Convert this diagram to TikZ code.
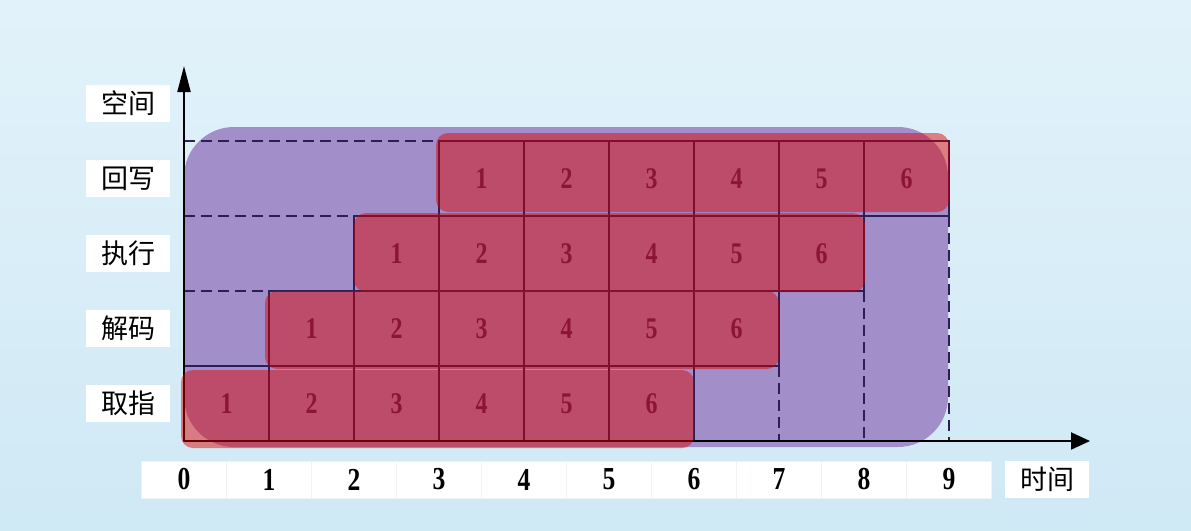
\documentclass[tikz,border=0pt]{standalone}
\usepackage{fontspec}
\setmainfont{Liberation Serif}
\newfontfamily\cjk{Noto Sans CJK SC}
\usetikzlibrary{arrows.meta}
\definecolor{bgtop}{RGB}{226,242,250}
\definecolor{bgbot}{RGB}{207,233,245}
\definecolor{purp}{RGB}{162,143,202}
\definecolor{bandred}{RGB}{220,0,0}
\definecolor{gridnavy}{RGB}{45,30,85}
\definecolor{numcol}{RGB}{70,40,100}
\definecolor{faint}{RGB}{238,243,246}
\tikzset{
  cell/.style={draw=gridnavy, line width=1.4pt, minimum width=85pt, minimum height=75pt, inner sep=0pt, outer sep=0pt,
    text=numcol, font=\fontsize{30}{30}\selectfont\bfseries},
  band/.style={fill=bandred, fill opacity=0.47, rounded corners=12pt},
  dashline/.style={draw=gridnavy, line width=1.6pt, dash pattern=on 11pt off 6pt},
  axisline/.style={draw=black, line width=2pt},
  rowlabel/.style={fill=white, minimum width=84pt, minimum height=37pt, inner sep=0pt, font=\cjk\fontsize{27}{27}\selectfont},
  tick/.style={fill=white, draw=faint, line width=0.6pt, minimum width=85pt, minimum height=37pt, inner sep=0pt,
    font=\fontsize{32}{32}\selectfont\bfseries}
}
\newcommand{\narrow}[1]{\scalebox{0.8}[1]{#1}}
\begin{document}
\begin{tikzpicture}[x=1pt,y=-1pt]
\useasboundingbox (0,0) rectangle (1191,530);
\shade[top color=bgtop, bottom color=bgbot] (0,0) rectangle (1191,530);
% purple region
\fill[purp, rounded corners=50pt] (184,127) rectangle (948,447);
% cells
\foreach \r/\yc in {0/403.5,1/328.5,2/253.5,3/178.5}{
  \foreach \k in {1,...,6}{
    \pgfmathsetmacro{\xc}{184+85*(\r+\k-1)+42.5}
    \node[cell] (c\r\k) at (\xc,\yc) {\narrow{\k}};
  }
}
% dashed guide lines
\coordinate (d4) at (184,141);
\coordinate (d3) at (184,216);
\coordinate (d2) at (184,291);
\draw[dashline] (d4) -- (c31.north west);
\draw[dashline] (d3) -- (c21.north west);
\draw[dashline] (d2) -- (c11.north west);
\coordinate (e1) at (779,441);
\coordinate (e2) at (864,441);
\coordinate (e3) at (949,441);
\draw[dashline] (c16.south east) -- (e1);
\draw[dashline] (c26.south east) -- (e2);
\draw[dashline] (c36.south east) -- (e3);
% axes
\coordinate (O) at (184,441);
\coordinate (ytip) at (184,66);
\coordinate (xtip) at (1090,441);
\draw[axisline, -{Triangle[length=26pt,width=13pt]}] (O) -- (ytip);
\draw[axisline, -{Triangle[length=19pt,width=17pt]}] (O) -- (xtip);
% red bands
\fill[band] (181,370) rectangle (694,448);
\fill[band] (265,291) rectangle (779,369);
\fill[band] (354,213) rectangle (865,292);
\fill[band] (436,133) rectangle (949,212);
% row labels
\node[rowlabel] (lsp) at (128,103.5) {空间};
\node[rowlabel] (l3) at (128,178.5) {回写};
\node[rowlabel] (l2) at (128,253.5) {执行};
\node[rowlabel] (l1) at (128,328.5) {解码};
\node[rowlabel] (l0) at (128,403.5) {取指};
% time ticks
\foreach \i in {0,...,9}{
  \node[tick] (t\i) at (184+85*\i,479.5) {\narrow{\i}};
}
\node[rowlabel] (tl) at (1047,479.5) {时间};
\end{tikzpicture}
\end{document}
